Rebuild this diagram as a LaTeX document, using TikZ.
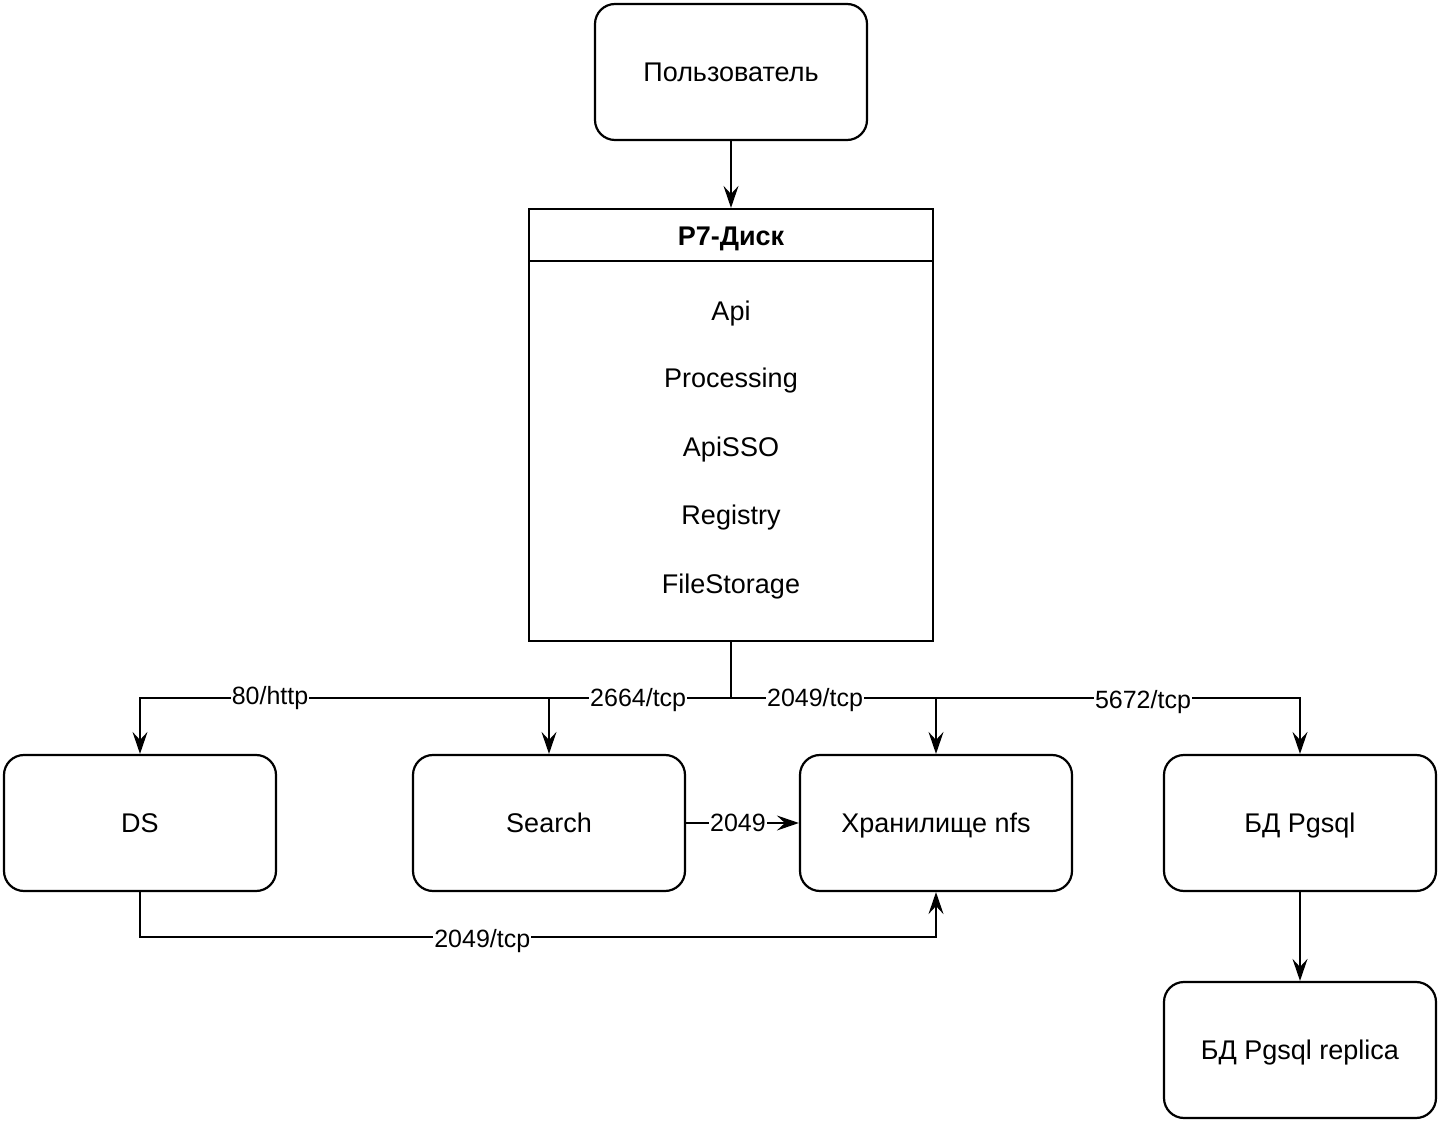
\documentclass[tikz,border=0pt]{standalone}
\usepackage{fontspec}
\setmainfont{Liberation Sans}
\usetikzlibrary{arrows.meta}
\tikzset{
  box/.style={draw, rounded corners=10pt, line width=1.1pt, minimum width=136pt, minimum height=68pt, text height=9.7pt, text depth=0pt, font=\fontsize{13.5}{16}\selectfont},
  item/.style={font=\fontsize{13.5}{16}\selectfont, text height=9.7pt, text depth=0pt, inner sep=1pt},
  lbl/.style={fill=white, inner sep=0.5pt, font=\fontsize{12.5}{15}\selectfont},
  link/.style={-{Stealth[length=11pt, width=7.5pt, inset=4pt]}, line width=1pt}
}
\begin{document}
\begin{tikzpicture}[x=0.5pt, y=-0.5pt]
  \useasboundingbox (0,0) rectangle (1442,1123);
  % top
  \node[box] (user) at (731,72) {Пользователь};
  \node[draw, line width=1.1pt, minimum width=202pt, minimum height=216pt] (disk) at (731,425) {};
  \draw[line width=1.1pt] (529,261) -- (933,261);
  \node[item, font=\fontsize{13.5}{16}\selectfont\bfseries] (title) at (731,236) {Р7-Диск};
  \node[item] (api) at (731,311) {Api};
  \node[item] (proc) at (731,378) {Processing};
  \node[item] (sso) at (731,447) {ApiSSO};
  \node[item] (reg) at (731,515) {Registry};
  \node[item] (fs) at (731,584) {FileStorage};
  % bottom row
  \node[box] (ds) at (140,823) {DS};
  \node[box] (search) at (549,823) {Search};
  \node[box] (nfs) at (936,823) {Хранилище nfs};
  \node[box] (pg) at (1300,823) {БД Pgsql};
  \node[box] (replica) at (1300,1050) {БД Pgsql replica};
  \coordinate (bus) at (731,698);
  \coordinate (dsdown) at (140,937);
  % links
  \draw[link] (user) -- (disk);
  \draw[line width=1pt] (disk.south) -- (bus);
  \draw[link] (bus) -| (ds.north) node[lbl, pos=0.39] {80/http};
  \draw[link] (bus) -| (search.north) node[lbl, pos=0.255, yshift=-1pt] {2664/tcp};
  \draw[link] (bus) -| (pg.north) node[lbl, pos=0.362, yshift=-2pt] {5672/tcp};
  \draw[link] (bus) -| (nfs.north) node[lbl, pos=0.205, yshift=-1pt] {2049/tcp};
  \draw[link] (search) -- (nfs) node[lbl, pos=0.46] {2049};
  \draw[link] (ds.south) -- (dsdown) -| (nfs.south) node[lbl, pos=0.215, yshift=-2pt] {2049/tcp};
  \draw[link] (pg) -- (replica);
\end{tikzpicture}
\end{document}
